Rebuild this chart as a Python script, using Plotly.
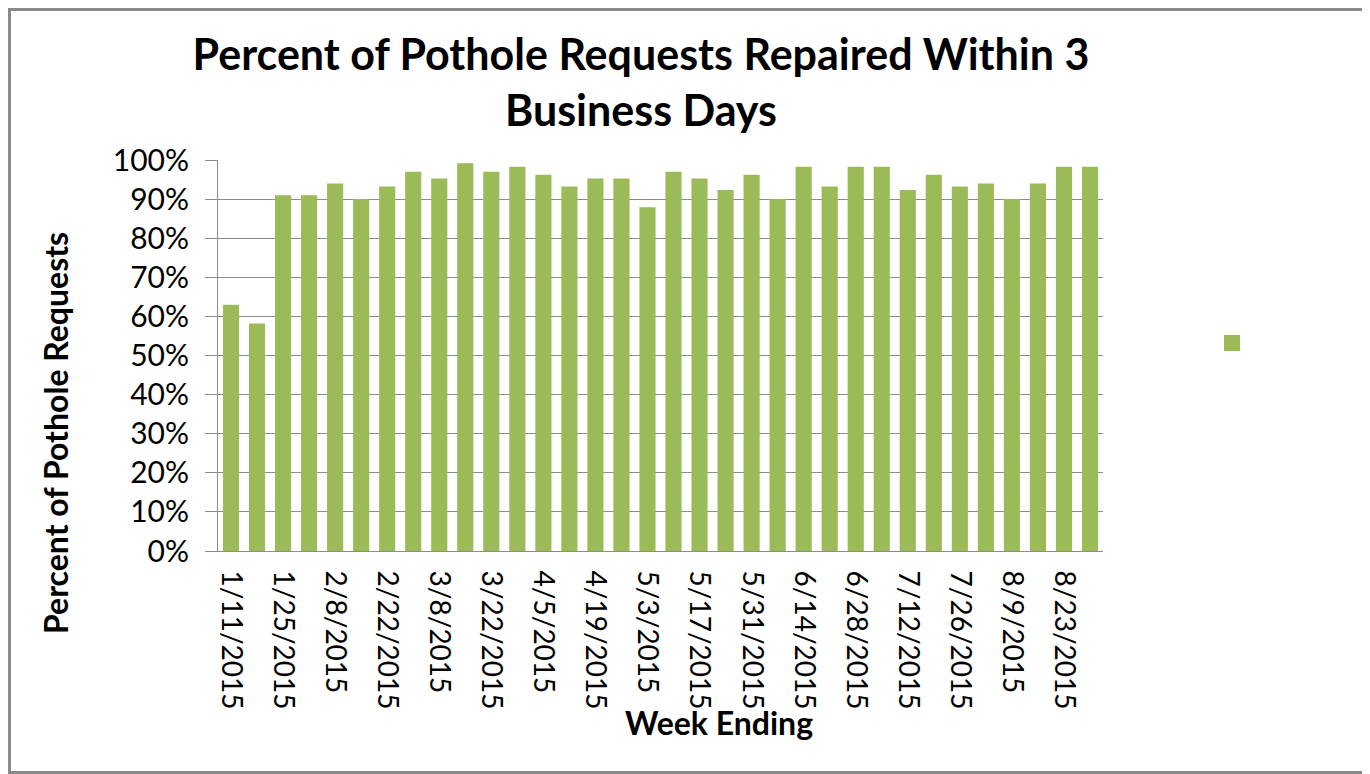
import plotly.graph_objects as go

weeks = ["1/11/2015", "1/18/2015", "1/25/2015", "2/1/2015", "2/8/2015", "2/15/2015",
         "2/22/2015", "3/1/2015", "3/8/2015", "3/15/2015", "3/22/2015", "3/29/2015",
         "4/5/2015", "4/12/2015", "4/19/2015", "4/26/2015", "5/3/2015", "5/10/2015",
         "5/17/2015", "5/24/2015", "5/31/2015", "6/7/2015", "6/14/2015", "6/21/2015",
         "6/28/2015", "7/5/2015", "7/12/2015", "7/19/2015", "7/26/2015", "8/2/2015",
         "8/9/2015", "8/16/2015", "8/23/2015", "8/30/2015"]
pct_repaired = [63, 58.2, 91, 91, 94, 90, 93.2, 97, 95.3, 99.2, 97, 98.3,
                96.2, 93.2, 95.3, 95.3, 87.9, 97, 95.3, 92.3, 96.2, 90,
                98.3, 93.2, 98.3, 98.3, 92.3, 96.2, 93.2, 94, 90, 94, 98.3, 98.3]
y_ticks = [0, 10, 20, 30, 40, 50, 60, 70, 80, 90, 100]
y_tick_labels = [f"{v}%" for v in y_ticks]
shown_week_labels = weeks[::2]

OFF = 8  # default page body margin
W, H = 1370 - OFF, 774 - OFF
L, R, T, B = 218 - OFF, 1103 - OFF, 160 - OFF, 551 - OFF
FONT = "Lato"
GREEN = "#9BBB59"
GRID = "#8C8C8C"


def px_x(p):
    return (p - OFF - L) / (R - L)


def px_y(p):
    return (B - (p - OFF)) / (B - T)


fig = go.Figure()
fig.add_trace(go.Bar(x=weeks, y=pct_repaired, marker=dict(color=GREEN, line=dict(width=0)),
                     showlegend=False))
fig.add_trace(go.Scatter(x=[None], y=[None], mode="markers", name=" ",
                         marker=dict(symbol="square", size=20, color=GREEN), showlegend=True))

fig.update_layout(
    width=W, height=H,
    margin=dict(l=L, r=W - R, t=T, b=H - B),
    paper_bgcolor="white", plot_bgcolor="white",
    bargap=0.38,
    font=dict(family=FONT, color="black"),
    title=dict(text="<b>Percent of Pothole Requests Repaired Within 3<br>Business Days</b>",
               x=(641 - OFF) / W, xref="container", xanchor="center",
               y=1 - (70 - OFF) / H, yanchor="middle", font=dict(size=43, family=FONT)),
    xaxis=dict(type="category", tickmode="array", tickvals=shown_week_labels,
               ticktext=shown_week_labels, tickangle=90, tickfont=dict(size=28),
               showline=True, linecolor=GRID, linewidth=1, ticks="", showgrid=False,
               ticklabelstandoff=13),
    yaxis=dict(range=[0, 100], tickmode="array", tickvals=y_ticks, ticktext=y_tick_labels,
               tickfont=dict(size=30), showline=True, linecolor=GRID, linewidth=1,
               ticks="outside", ticklen=12, tickcolor=GRID, gridcolor=GRID, gridwidth=1,
               zeroline=False, ticklabelstandoff=10),
    legend=dict(x=px_x(1212), y=px_y(343), xanchor="left", yanchor="middle",
                font=dict(size=20), bgcolor="rgba(0,0,0,0)"),
    annotations=[
        dict(text="<b>Week Ending</b>", x=px_x(719), y=px_y(722), xref="paper", yref="paper",
             showarrow=False, font=dict(size=32, family=FONT), xanchor="center", yanchor="middle"),
        dict(text="<b>Percent of Pothole Requests</b>", x=px_x(55), y=px_y(433), xref="paper",
             yref="paper", showarrow=False, textangle=-90, font=dict(size=32, family=FONT),
             xanchor="center", yanchor="middle"),
    ],
    shapes=[dict(type="rect", xref="paper", yref="paper",
                 x0=px_x(OFF + 1.5), x1=px_x(OFF + W - 1.5),
                 y0=px_y(OFF + H - 1.5), y1=px_y(OFF + 1.5),
                 line=dict(color="#8A8A8A", width=3))],
)

fig.write_html("out.html")
